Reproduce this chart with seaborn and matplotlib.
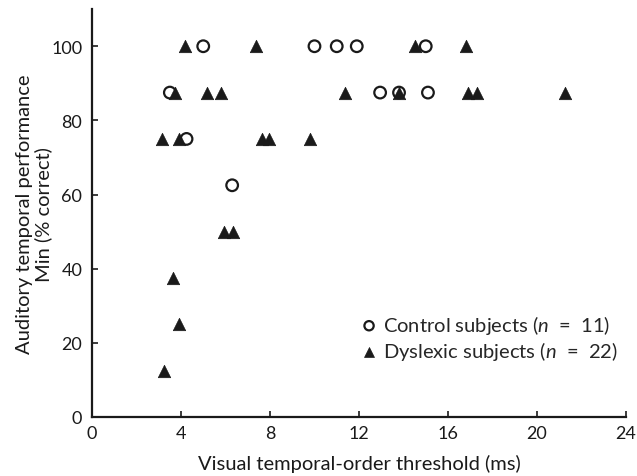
import matplotlib
matplotlib.use("Agg")
import matplotlib.pyplot as plt
import seaborn as sns
import pandas as pd

# control subjects (n = 11)
control_x = [5.0, 10.0, 11.0, 11.9, 15.0, 3.5, 12.95, 13.8, 15.1, 4.25, 6.3]
control_y = [100, 100, 100, 100, 100, 87.5, 87.5, 87.5, 87.5, 75, 62.5]

# dyslexic subjects (n = 22)
dyslexic_x = [4.2, 7.35, 14.5, 16.8,
              3.75, 5.15, 5.8, 11.35, 13.8, 16.9, 17.3, 21.25,
              3.15, 3.9, 7.65, 7.95, 9.8,
              5.95, 6.35, 3.65, 3.9, 3.25]
dyslexic_y = [100, 100, 100, 100,
              87.5, 87.5, 87.5, 87.5, 87.5, 87.5, 87.5, 87.5,
              75, 75, 75, 75, 75,
              50, 50, 37.5, 25, 12.5]

labels = ["Control subjects ($\\mathit{n}$  =  11)", "Dyslexic subjects ($\\mathit{n}$  =  22)"]
x_ticks = [0, 4, 8, 12, 16, 20, 24]
y_ticks = [0, 20, 40, 60, 80, 100]

df = pd.DataFrame({
    "x": dyslexic_x + control_x,
    "y": dyslexic_y + control_y,
    "group": [labels[1]] * len(dyslexic_x) + [labels[0]] * len(control_x),
})

sns.set_style("ticks")
plt.rcParams["font.family"] = ["Lato", "DejaVu Sans"]
plt.rcParams["mathtext.fontset"] = "custom"
plt.rcParams["mathtext.it"] = "Lato:italic"
plt.rcParams["mathtext.rm"] = "Lato"

fig = plt.figure(figsize=(6.37, 4.77), dpi=100)
ax = fig.add_axes([0.1444, 0.1237, 0.8383, 0.855])

dys = df[df["group"] == labels[1]]
ctl = df[df["group"] == labels[0]]
sns.scatterplot(data=dys, x="x", y="y", marker="^", color="#1a1a1a", s=80,
                edgecolor="#1a1a1a", linewidth=0.5, ax=ax, label=labels[1], zorder=2)
sns.scatterplot(data=ctl, x="x", y="y", marker="o", facecolor="none", s=70,
                edgecolor="#1a1a1a", linewidth=1.6, ax=ax, label=labels[0], zorder=3)

ax.set_xlim(0, 24)
ax.set_ylim(0, 110)
ax.set_xticks(x_ticks)
ax.set_yticks(y_ticks)
ax.tick_params(direction="in", length=4, width=1.2, labelsize=13, colors="#1a1a1a")
ax.tick_params(axis="x", pad=6)
ax.tick_params(axis="y", pad=7)
for s in ["left", "bottom"]:
    ax.spines[s].set_linewidth(1.6)
    ax.spines[s].set_color("#1a1a1a")
sns.despine(ax=ax)

ax.set_xlabel("Visual temporal-order threshold (ms)", fontsize=14.5, color="#1a1a1a",
              labelpad=9)
ax.set_ylabel("Auditory temporal performance\nMin (% correct)", fontsize=14.5,
              color="#1a1a1a", linespacing=1.1, labelpad=-1)

h, l = ax.get_legend_handles_labels()
ax.legend(h[::-1], l[::-1], loc="lower right", bbox_to_anchor=(1.0, 0.115),
          frameon=False, fontsize=14.5, borderaxespad=0,
          handletextpad=0.1, handlelength=1.2, labelspacing=0.15, markerscale=0.8)

fig.savefig("out.png", dpi=100)
